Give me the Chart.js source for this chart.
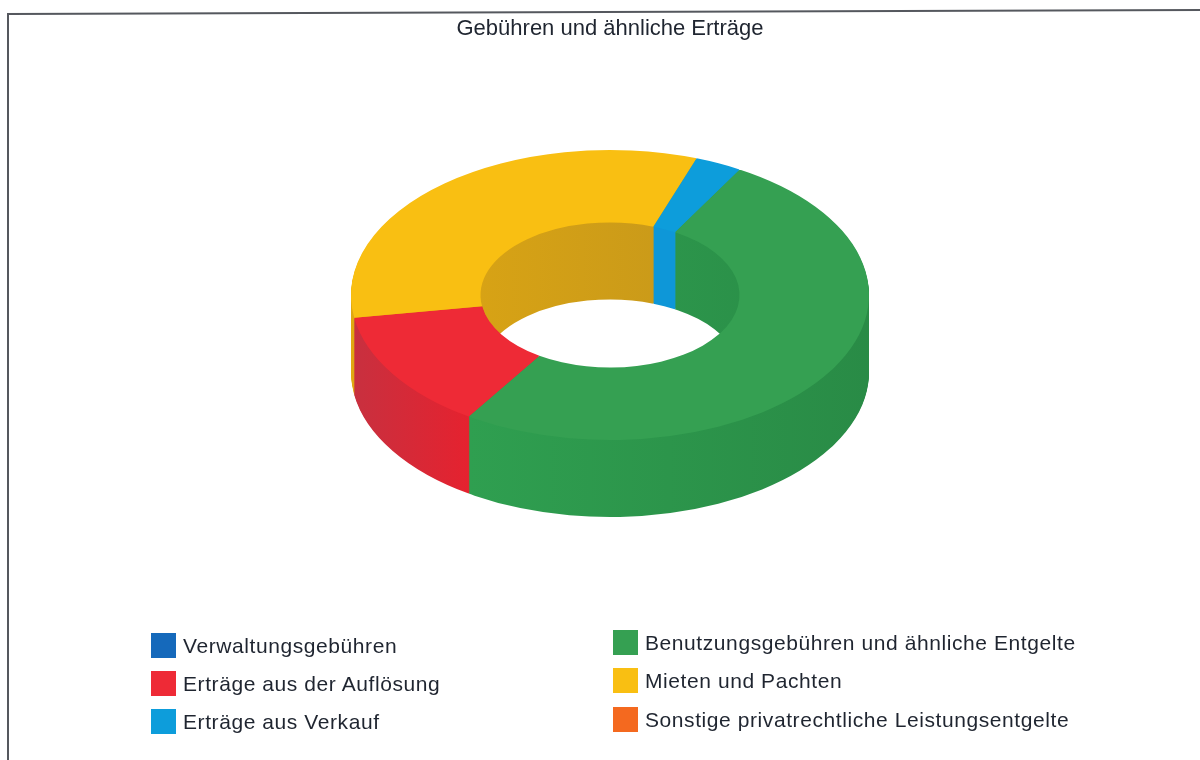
<!DOCTYPE html>
<html lang="de">
<head>
<meta charset="utf-8">
<title>Gebühren und ähnliche Erträge</title>
<script src="https://cdn.jsdelivr.net/npm/chart.js@4"></script>
<style>
  html, body { margin: 0; background: #fff; }
  #wrap { position: relative; width: 1200px; height: 760px; overflow: hidden; }
  #legend span { position: absolute; white-space: nowrap; }
  #legend .box { width: 25px; height: 25px; }
  #legend .txt { font: 21px "Liberation Sans", Arial, sans-serif; color: #1f2530; letter-spacing: 0.58px; line-height: 25px; }
</style>
</head>
<body>
<div id="wrap">
  <canvas id="chart" width="1200" height="760"></canvas>
  <div id="legend"></div>
</div>
<script>
const chartTitle = 'Gebühren und ähnliche Erträge';
const categories = [
  'Verwaltungsgebühren',
  'Benutzungsgebühren und ähnliche Entgelte',
  'Erträge aus der Auflösung',
  'Mieten und Pachten',
  'Erträge aus Verkauf',
  'Sonstige privatrechtliche Leistungsentgelte'
];
// Anteile in Prozent, aus dem Bild geschätzt
const shares = [0, 50.8, 13.3, 32.9, 2.9, 0];
const topColors = ['#1569bb', '#35a052', '#ee2a36', '#f9bf12', '#0d9ddb', '#f4691f'];
// Seitenwand: Farbe links / rechts
const wallLeft = ['#125a9f', '#2f9f50', '#c8303f', '#e0a812', '#0e97d8', '#d25a1a'];
const wallRight = ['#125a9f', '#298b46', '#e5222f', '#c8991a', '#0e97d8', '#d25a1a'];

// 3D-Ansicht
const squash = 0.56;
const depth = 77;
const lift = -6.4;

// waagerechte Ausdehnung eines Segments, für den Verlauf der Wand
function arcExtent(arc) {
  const xs = [Math.cos(arc.startAngle), Math.cos(arc.endAngle)];
  for (let k = -2; k <= 2; k++) {
    if (k * Math.PI > arc.startAngle && k * Math.PI < arc.endAngle) xs.push(k % 2 ? -1 : 1);
  }
  return [arc.x + Math.min(...xs) * arc.outerRadius, arc.x + Math.max(...xs) * arc.outerRadius];
}

const ring3d = {
  id: 'ring3d',
  beforeDatasetsDraw(chart) {
    const { ctx } = chart;
    const arcs = chart.getDatasetMeta(0).data;
    const cx = arcs[0].x, cy = arcs[0].y;
    const walls = arcs.map((arc, i) => {
      if (!shares[i]) return null;
      const [x0, x1] = arcExtent(arc);
      const g = ctx.createLinearGradient(x0, 0, x1, 0);
      g.addColorStop(0, wallLeft[i]);
      g.addColorStop(1, wallRight[i]);
      return g;
    });

    // von unten nach oben stapeln, die oberste Lage ist die Deckfläche
    for (let dy = depth; dy >= 0; dy--) {
      ctx.save();
      ctx.translate(cx, cy + lift + dy);
      ctx.scale(1, squash);
      ctx.translate(-cx, -cy);
      arcs.forEach((arc, i) => {
        if (!shares[i]) return;
        const opts = arc.options;
        arc.options = { ...opts, backgroundColor: dy === 0 ? topColors[i] : walls[i] };
        arc.draw(ctx);
        arc.options = opts;
      });
      ctx.restore();
    }
    return false;
  },
  afterDraw(chart) {
    // Rahmen des Scans, leicht schief
    const { ctx } = chart;
    ctx.save();
    ctx.strokeStyle = '#55585e';
    ctx.lineWidth = 2;
    ctx.beginPath();
    ctx.moveTo(8, 760);
    ctx.lineTo(8, 14);
    ctx.lineTo(1200, 10);
    ctx.stroke();
    ctx.restore();
  }
};

const chart = new Chart(document.getElementById('chart'), {
  type: 'doughnut',
  data: {
    labels: categories,
    datasets: [{
      data: shares,
      backgroundColor: topColors,
      borderWidth: 0,
      cutout: '50%',
      rotation: 30
    }]
  },
  options: {
    responsive: false,
    animation: false,
    layout: { padding: { left: 351, right: 331, top: 16, bottom: 199.6 } },
    plugins: {
      legend: { display: false },
      tooltip: { enabled: false },
      title: {
        display: true,
        text: chartTitle,
        color: '#1f2530',
        font: { family: '"Liberation Sans", Arial, sans-serif', size: 22, weight: 'normal' },
        padding: 0
      }
    }
  },
  plugins: [ring3d]
});

// Legende zweispaltig, rechte Spalte sitzt im Scan etwas höher
const legend = document.getElementById('legend');
const colX = [151, 613];
const rowY = [[633, 671, 709], [630, 668, 707]];
chart.data.labels.forEach((label, i) => {
  const col = i % 2, row = Math.floor(i / 2);
  const box = document.createElement('span');
  box.className = 'box';
  box.style.left = colX[col] + 'px';
  box.style.top = rowY[col][row] + 'px';
  box.style.background = topColors[i];
  const txt = document.createElement('span');
  txt.className = 'txt';
  txt.style.left = (colX[col] + 32) + 'px';
  txt.style.top = rowY[col][row] + 'px';
  txt.textContent = label;
  legend.append(box, txt);
});
</script>
</body>
</html>
